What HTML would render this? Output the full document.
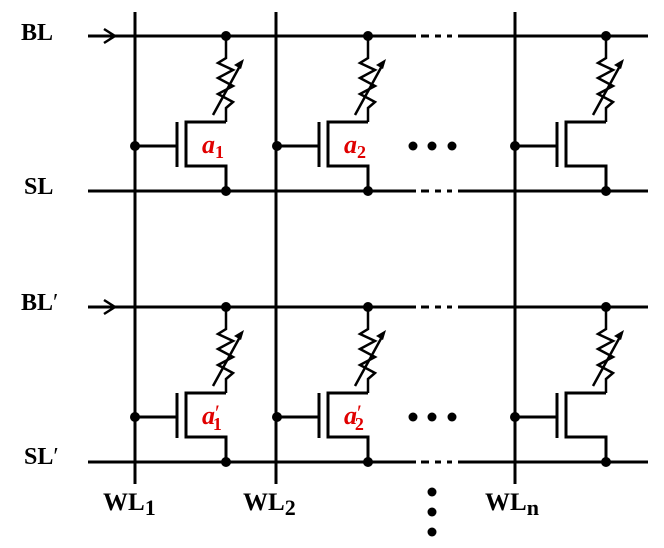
<!DOCTYPE html>
<html><head><style>html,body{margin:0;padding:0;background:#fff}svg{display:block}</style></head>
<body>
<svg width="664" height="548" viewBox="0 0 664 548" xmlns="http://www.w3.org/2000/svg">
<defs>
<g id="cell" fill="none" stroke="#000" stroke-width="3">
  <circle cx="0" cy="110" r="5" fill="#000" stroke="none"/>
  <line x1="0" y1="110" x2="42" y2="110"/>
  <line x1="42" y1="86" x2="42" y2="131"/>
  <polyline points="91,86 51,86 51,130 91,130 91,155"/>
  <polyline stroke-width="2.5" points="91,0 91,22 83,27 98,34 83,42 98,50 83,58 98,66 91,72 91,86"/>
  <line stroke-width="2.5" x1="78" y1="79" x2="106" y2="28"/>
  <polygon points="109,23 99,29 106,33" fill="#000" stroke="none"/>
  <circle cx="91" cy="0" r="5" fill="#000" stroke="none"/>
  <circle cx="91" cy="155" r="5" fill="#000" stroke="none"/>
</g>
<g id="rows" stroke="#000" stroke-width="3" fill="none">
  <line x1="88" y1="0" x2="416" y2="0"/>
  <line x1="421" y1="0" x2="429" y2="0"/>
  <line x1="435" y1="0" x2="441" y2="0"/>
  <line x1="447" y1="0" x2="452" y2="0"/>
  <line x1="458" y1="0" x2="648" y2="0"/>
  <line x1="88" y1="155" x2="416" y2="155"/>
  <line x1="421" y1="155" x2="429" y2="155"/>
  <line x1="435" y1="155" x2="441" y2="155"/>
  <line x1="447" y1="155" x2="452" y2="155"/>
  <line x1="458" y1="155" x2="648" y2="155"/>
  <polyline stroke-width="2.5" points="104,-7 115,0 104,7"/>
  <circle cx="413" cy="110" r="4.5" fill="#000" stroke="none"/>
  <circle cx="432" cy="110" r="4.5" fill="#000" stroke="none"/>
  <circle cx="452" cy="110" r="4.5" fill="#000" stroke="none"/>
</g>
</defs>
<g stroke="#000" stroke-width="3">
  <line x1="135" y1="12" x2="135" y2="484"/>
  <line x1="276" y1="12" x2="276" y2="484"/>
  <line x1="515" y1="12" x2="515" y2="484"/>
</g>
<use href="#rows" transform="translate(0,36)"/>
<use href="#rows" transform="translate(0,307)"/>
<use href="#cell" transform="translate(135,36)"/>
<use href="#cell" transform="translate(277,36)"/>
<use href="#cell" transform="translate(515,36)"/>
<use href="#cell" transform="translate(135,307)"/>
<use href="#cell" transform="translate(277,307)"/>
<use href="#cell" transform="translate(515,307)"/>
<g fill="#000">
  <circle cx="432" cy="492" r="4.5"/><circle cx="432" cy="512" r="4.5"/><circle cx="432" cy="532" r="4.5"/>
</g>
<g font-family="Liberation Serif, serif" font-weight="bold" font-size="24" fill="#000">
  <text x="21" y="40">BL</text>
  <text x="24" y="194">SL</text>
  <text x="21" y="310">BL<tspan font-weight="normal">′</tspan></text>
  <text x="24" y="464">SL<tspan font-weight="normal">′</tspan></text>
  <text x="103" y="510" font-size="25">WL<tspan font-size="22" dy="5">1</tspan></text>
  <text x="243" y="510" font-size="25">WL<tspan font-size="22" dy="5">2</tspan></text>
  <text x="485" y="510" font-size="25">WL<tspan font-size="22" dy="5">n</tspan></text>
</g>
<g font-family="Liberation Serif, serif" font-weight="bold" font-style="italic" font-size="26" fill="#e00000">
  <text x="202" y="153">a<tspan font-style="normal" font-size="18" dy="5">1</tspan></text>
  <text x="344" y="153">a<tspan font-style="normal" font-size="18" dy="5">2</tspan></text>
  <text x="202" y="424">a<tspan font-style="normal" font-weight="normal" font-size="22" dx="0" dy="-4">′</tspan><tspan font-style="normal" font-size="18" dx="-7" dy="10">1</tspan></text>
  <text x="344" y="424">a<tspan font-style="normal" font-weight="normal" font-size="22" dx="0" dy="-4">′</tspan><tspan font-style="normal" font-size="18" dx="-7" dy="10">2</tspan></text>
</g>
</svg>
</body></html>
